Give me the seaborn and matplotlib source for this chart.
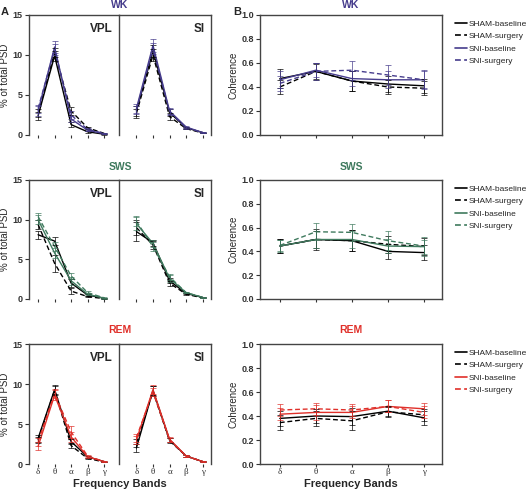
import numpy as np
import pandas as pd
import matplotlib
matplotlib.use("Agg")
import matplotlib.pyplot as plt
import seaborn as sns

# --------------------------------------------------------------
# Data
# --------------------------------------------------------------
bands = ["δ", "θ", "α", "β", "γ"]
groups = ["SHAM-baseline", "SHAM-surgery", "SNI-baseline", "SNI-surgery"]
states = ["WK", "SWS", "REM"]
state_colors = ["#463c8c", "#3f7a5e", "#e0302a"]

# % of total PSD, rows = groups
wk_vpl = [[2.4, 9.9, 1.3, 0.4, 0.1], [2.7, 10.3, 3.0, 0.9, 0.2],
          [3.0, 11.0, 2.0, 0.6, 0.15], [3.3, 10.7, 2.5, 0.7, 0.2]]
wk_si = [[3.0, 10.5, 2.8, 0.9, 0.3], [2.7, 10.0, 2.3, 0.8, 0.25],
         [3.3, 11.2, 3.0, 1.0, 0.3], [3.1, 10.8, 2.9, 0.9, 0.3]]
sws_vpl = [[8.1, 7.3, 2.0, 0.5, 0.1], [9.4, 4.5, 1.0, 0.3, 0.05],
           [10.0, 5.8, 2.3, 0.6, 0.1], [10.4, 6.6, 2.9, 0.8, 0.15]]
sws_si = [[8.5, 7.1, 2.3, 0.7, 0.2], [9.0, 6.8, 2.0, 0.6, 0.15],
          [9.5, 7.0, 2.6, 0.8, 0.2], [9.8, 6.6, 2.8, 0.8, 0.2]]
rem_vpl = [[3.2, 9.3, 2.8, 0.9, 0.3], [3.0, 9.2, 2.3, 0.7, 0.25],
           [2.2, 8.6, 3.4, 0.9, 0.3], [2.8, 8.8, 4.0, 1.0, 0.3]]
rem_si = [[2.0, 9.2, 3.0, 1.0, 0.3], [2.6, 9.1, 2.9, 1.0, 0.3],
          [3.0, 9.3, 3.1, 1.0, 0.3], [3.3, 9.0, 3.0, 1.0, 0.3]]

# SEM of PSD
wk_vpl_err = [[0.5, 0.6, 0.3, 0.1, 0.05], [0.5, 0.6, 0.5, 0.15, 0.05],
              [0.6, 0.8, 0.4, 0.1, 0.05], [0.5, 0.7, 0.5, 0.15, 0.05]]
wk_si_err = [[0.6, 0.8, 0.4, 0.1, 0.05], [0.6, 0.7, 0.4, 0.1, 0.05],
             [0.6, 0.8, 0.4, 0.1, 0.05], [0.5, 0.7, 0.4, 0.1, 0.05]]
sws_vpl_err = [[0.5, 0.5, 0.5, 0.1, 0.05], [0.6, 1.1, 0.4, 0.1, 0.05],
               [0.6, 0.6, 0.5, 0.15, 0.05], [0.5, 0.6, 0.4, 0.15, 0.05]]
sws_si_err = [[1.2, 0.4, 0.3, 0.1, 0.05], [0.9, 0.5, 0.3, 0.1, 0.05],
              [0.8, 0.5, 0.4, 0.1, 0.05], [0.6, 0.6, 0.4, 0.1, 0.05]]
rem_vpl_err = [[0.4, 0.6, 0.3, 0.1, 0.05], [0.4, 0.6, 0.3, 0.1, 0.05],
               [0.5, 0.6, 0.6, 0.1, 0.05], [0.5, 0.6, 0.7, 0.15, 0.05]]
rem_si_err = [[0.5, 0.6, 0.3, 0.1, 0.05], [0.5, 0.6, 0.3, 0.1, 0.05],
              [0.5, 0.6, 0.3, 0.1, 0.05], [0.5, 0.5, 0.3, 0.1, 0.05]]

# VPL-SI coherence
wk_coh = [[0.47, 0.53, 0.45, 0.425, 0.41], [0.40, 0.53, 0.45, 0.40, 0.39],
          [0.46, 0.54, 0.47, 0.46, 0.46], [0.43, 0.53, 0.54, 0.50, 0.46]]
sws_coh = [[0.445, 0.50, 0.49, 0.40, 0.39], [0.445, 0.50, 0.49, 0.46, 0.44],
           [0.445, 0.50, 0.50, 0.445, 0.44], [0.45, 0.565, 0.56, 0.49, 0.445]]
rem_coh = [[0.38, 0.40, 0.395, 0.44, 0.385], [0.345, 0.38, 0.36, 0.435, 0.41],
           [0.415, 0.43, 0.43, 0.48, 0.46], [0.45, 0.46, 0.45, 0.48, 0.43]]

wk_coh_err = [[0.08, 0.07, 0.08, 0.07, 0.06], [0.06, 0.06, 0.08, 0.06, 0.06],
              [0.07, 0.06, 0.06, 0.07, 0.07], [0.06, 0.07, 0.08, 0.08, 0.08]]
sws_coh_err = [[0.06, 0.07, 0.09, 0.06, 0.06], [0.06, 0.09, 0.09, 0.07, 0.07],
               [0.05, 0.07, 0.07, 0.06, 0.06], [0.05, 0.07, 0.07, 0.08, 0.08]]
rem_coh_err = [[0.06, 0.06, 0.07, 0.04, 0.06], [0.06, 0.06, 0.08, 0.04, 0.05],
               [0.05, 0.06, 0.05, 0.05, 0.05], [0.05, 0.05, 0.05, 0.05, 0.05]]

psd_vpl = [wk_vpl, sws_vpl, rem_vpl]
psd_si = [wk_si, sws_si, rem_si]
psd_vpl_err = [wk_vpl_err, sws_vpl_err, rem_vpl_err]
psd_si_err = [wk_si_err, sws_si_err, rem_si_err]
coh = [wk_coh, sws_coh, rem_coh]
coh_err = [wk_coh_err, sws_coh_err, rem_coh_err]

# --------------------------------------------------------------
# Style
# --------------------------------------------------------------
sns.set_style("ticks")
plt.rcParams["font.family"] = ["Liberation Sans", "DejaVu Sans"]
plt.rcParams["axes.linewidth"] = 1.0
plt.rcParams["axes.edgecolor"] = "#444444"
plt.rcParams["xtick.color"] = "#333333"
plt.rcParams["ytick.color"] = "#333333"
greek_font = ["Liberation Serif", "DejaVu Serif"]

W, H = 529, 492
fig = plt.figure(figsize=(W / 100, H / 100), dpi=100)


def px_axes(x0, y0, x1, y1):
    return fig.add_axes([x0 / W, 1 - y1 / H, (x1 - x0) / W, (y1 - y0) / H])


def to_long(values):
    rows = []
    for g, vals in zip(groups, values):
        for i, v in enumerate(vals):
            rows.append({"x": i, "value": v, "group": g})
    return pd.DataFrame(rows)


def draw(ax, values, errs, color, legend=False):
    palette = {"SHAM-baseline": "black", "SHAM-surgery": "black",
               "SNI-baseline": color, "SNI-surgery": color}
    dashes = {"SHAM-baseline": "", "SHAM-surgery": (3.5, 2),
              "SNI-baseline": "", "SNI-surgery": (3.5, 2)}
    df = to_long(values)
    sns.lineplot(data=df, x="x", y="value", hue="group", style="group",
                 hue_order=groups, style_order=groups, palette=palette,
                 dashes=dashes, linewidth=1.0, ax=ax, legend=legend)
    for g, vals, e in zip(groups, values, errs):
        ax.errorbar(range(len(bands)), vals, yerr=e, fmt="none",
                    ecolor=palette[g], elinewidth=0.7, capsize=2,
                    capthick=0.7, alpha=0.7)
    ax.set_xlabel("")
    ax.set_ylabel("")


rows = [(15, 135), (180, 299), (344, 464)]
title_y = [5, 167, 330]

for r, (top, bot) in enumerate(rows):
    color = state_colors[r]
    last = r == 2

    # Panel A: PSD in VPL and SI
    ax_v = px_axes(29, top, 119, bot)
    ax_s = px_axes(119, top, 211, bot)
    draw(ax_v, psd_vpl[r], psd_vpl_err[r], color)
    draw(ax_s, psd_si[r], psd_si_err[r], color)
    for ax, name, xl in [(ax_v, "VPL", (-0.55, 4.9)), (ax_s, "SI", (-1.05, 4.5))]:
        ax.set_xlim(*xl)
        ax.set_ylim(0, 15)
        ax.spines["bottom"].set_visible(False)
        ax.set_xticks(range(len(bands)))
        ax.tick_params(axis="x", length=2.5, width=0.8, pad=0.5)
        if last:
            ax.set_xticklabels(bands, fontsize=6.5, family=greek_font)
        else:
            ax.set_xticklabels([])
        ax.text(0.93, 0.88, name, transform=ax.transAxes, ha="right",
                va="center", fontsize=8.5, fontweight="bold")
    ax_v.spines["right"].set_visible(False)
    ax_v.set_yticks([0, 5, 10, 15])
    ax_v.set_yticklabels(["0", "5", "10", "15"], fontsize=6.5, fontweight="bold")
    ax_v.tick_params(axis="y", length=3, width=0.8, pad=1.5)
    ax_v.set_ylabel("% of total PSD", fontsize=7, labelpad=2)
    ax_s.set_yticks([])

    # Panel B: coherence
    ax_b = px_axes(260, top, 442, bot)
    draw(ax_b, coh[r], coh_err[r], color, legend=True)
    ax_b.set_xlim(-0.55, 4.5)
    ax_b.set_ylim(0, 1.0)
    ax_b.set_yticks(np.arange(0, 1.01, 0.2))
    ax_b.set_yticklabels([f"{v:.1f}" for v in np.arange(0, 1.01, 0.2)],
                         fontsize=6.5, fontweight="bold")
    ax_b.set_xticks(range(len(bands)))
    ax_b.tick_params(axis="y", length=3, width=0.8, pad=1.5)
    ax_b.tick_params(axis="x", length=2.5, width=0.8, pad=0.5)
    if last:
        ax_b.set_xticklabels(bands, fontsize=6.5, family=greek_font)
    else:
        ax_b.set_xticklabels([])
    ax_b.set_ylabel("Coherence", fontsize=7, labelpad=2)
    sns.move_legend(ax_b, "upper left", bbox_to_anchor=(1.03, 1.02),
                    frameon=False, title=None, fontsize=6, handlelength=1.4,
                    handletextpad=0.2, labelspacing=0.55)
    for line in ax_b.get_legend().get_lines():
        line.set_linewidth(1.2)

    # state titles
    fig.text(120 / W, 1 - title_y[r] / H, states[r], color=color,
             fontsize=7.5, fontweight="bold", ha="center", va="center")
    fig.text(351 / W, 1 - title_y[r] / H, states[r], color=color,
             fontsize=7.5, fontweight="bold", ha="center", va="center")

    if last:
        fig.text(120 / W, 1 - 484 / H, "Frequency Bands", fontsize=8,
                 fontweight="bold", ha="center", va="center")
        fig.text(351 / W, 1 - 484 / H, "Frequency Bands", fontsize=8,
                 fontweight="bold", ha="center", va="center")

fig.text(5 / W, 1 - 12 / H, "A", fontsize=8, fontweight="bold",
         ha="center", va="center")
fig.text(237 / W, 1 - 12 / H, "B", fontsize=8, fontweight="bold",
         ha="center", va="center")

fig.savefig("out.png", dpi=100)
